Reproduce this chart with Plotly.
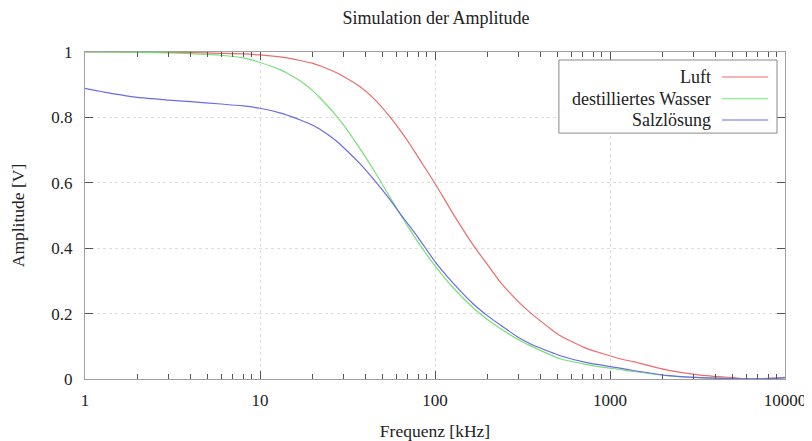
import plotly.graph_objects as go

freq_khz = [1, 1.5, 2, 3, 4, 6, 8, 10, 13, 15, 17, 20, 22, 27, 30, 37, 45, 55, 65, 72,
            82, 100, 127, 165, 200, 235, 300, 350, 475, 520, 736, 880, 1140, 1360, 2100,
            3270, 5070, 6000, 8000, 10000]

luft = [1.0, 1.0, 0.9995, 0.999, 0.998, 0.996, 0.994, 0.991, 0.985, 0.980, 0.974, 0.965,
        0.958, 0.938, 0.925, 0.895, 0.856, 0.803, 0.752, 0.717, 0.67, 0.598, 0.505, 0.41,
        0.349, 0.298, 0.236, 0.203, 0.147, 0.132, 0.093, 0.080, 0.062, 0.053, 0.028, 0.012,
        0.004, 0.001, 0.002, 0.005]

wasser = [1.0, 0.9995, 0.999, 0.997, 0.995, 0.99, 0.982, 0.968, 0.946, 0.929, 0.911, 0.882,
          0.860, 0.808, 0.777, 0.707, 0.636, 0.558, 0.494, 0.456, 0.41, 0.346, 0.279, 0.218,
          0.181, 0.155, 0.120, 0.102, 0.070, 0.062, 0.044, 0.037, 0.029, 0.023, 0.010, 0.004,
          0.001, 0.0005, 0.001, 0.003]

salz = [0.889, 0.871, 0.861, 0.853, 0.848, 0.841, 0.835, 0.828, 0.814, 0.803, 0.792, 0.776,
        0.764, 0.730, 0.708, 0.660, 0.608, 0.550, 0.497, 0.466, 0.425, 0.359, 0.293, 0.230,
        0.193, 0.166, 0.127, 0.108, 0.079, 0.071, 0.050, 0.043, 0.033, 0.026, 0.011, 0.004,
        0.001, 0.0005, 0.001, 0.004]

series_names = ["Luft", "destilliertes Wasser", "Salzlösung"]
series_values = [luft, wasser, salz]
series_colors = ["#ee6b6b", "#74e274", "#6b6be8"]

x_tickvals = [1, 10, 100, 1000, 10000]
x_ticktext = ["1", "10", "100", "1000", "10000"]
y_tickvals = [0, 0.2, 0.4, 0.6, 0.8, 1.0]
y_ticktext = ["0", "0.2", "0.4", "0.6", "0.8", "1"]
minor_vals = [m * d for d in [1, 10, 100, 1000] for m in range(2, 10)]

FONT = "Liberation Serif, Times New Roman, serif"
TXT = "#222222"

fig = go.Figure()
for name, vals, col in zip(series_names, series_values, series_colors):
    fig.add_trace(go.Scatter(x=freq_khz, y=vals, mode="lines", name=name,
                             line=dict(color=col, width=1.2, shape="spline", smoothing=0.6),
                             showlegend=False))

# custom legend (text right-aligned, sample line to the right)
fig.add_shape(type="rect", xref="paper", yref="paper", x0=0.677, x1=0.9886, y0=0.752, y1=0.9755,
              line=dict(color="#888888", width=1), fillcolor="white", layer="above")
rows_y = [0.9235, 0.857, 0.792]
for name, col, yy in zip(series_names, series_colors, rows_y):
    fig.add_annotation(xref="paper", yref="paper", x=0.897, y=yy, text=name, showarrow=False,
                       xanchor="right", yanchor="middle", font=dict(family=FONT, size=18, color=TXT))
    fig.add_shape(type="line", xref="paper", yref="paper", x0=0.91, x1=0.976, y0=yy, y1=yy,
                  line=dict(color=col, width=1.2), layer="above")

axis_common = dict(showline=True, linecolor="#a0a0a0", linewidth=1, mirror="ticks",
                   ticks="inside", tickcolor="#555555", ticklen=8, tickwidth=1,
                   showgrid=True, gridcolor="#dcdcdc", griddash="dot", gridwidth=1,
                   zeroline=False, automargin=False,
                   tickfont=dict(family=FONT, size=17, color=TXT))

fig.update_xaxes(type="log", range=[0, 4], tickmode="array", tickvals=x_tickvals,
                 ticktext=x_ticktext, ticklabelstandoff=6,
                 minor=dict(tickmode="array", tickvals=minor_vals, ticks="inside", ticklen=5,
                            tickcolor="#555555", showgrid=False),
                 title=dict(text="Frequenz [kHz]", font=dict(family=FONT, size=17.5, color=TXT),
                            standoff=15),
                 **axis_common)
fig.update_yaxes(range=[0, 1], tickmode="array", tickvals=y_tickvals, ticktext=y_ticktext,
                 ticklabelstandoff=8,
                 title=dict(text="Amplitude [V]", font=dict(family=FONT, size=17.5, color=TXT),
                            standoff=22),
                 **axis_common)

fig.update_layout(
    width=812, height=441,
    margin=dict(l=77, r=35, t=44, b=70),
    paper_bgcolor="white", plot_bgcolor="white",
    title=dict(text="Simulation der Amplitude", x=0.527, xanchor="center", y=0.977, yanchor="middle",
               font=dict(family=FONT, size=18, color=TXT)),
    showlegend=False,
)

fig.write_html("out.html")
